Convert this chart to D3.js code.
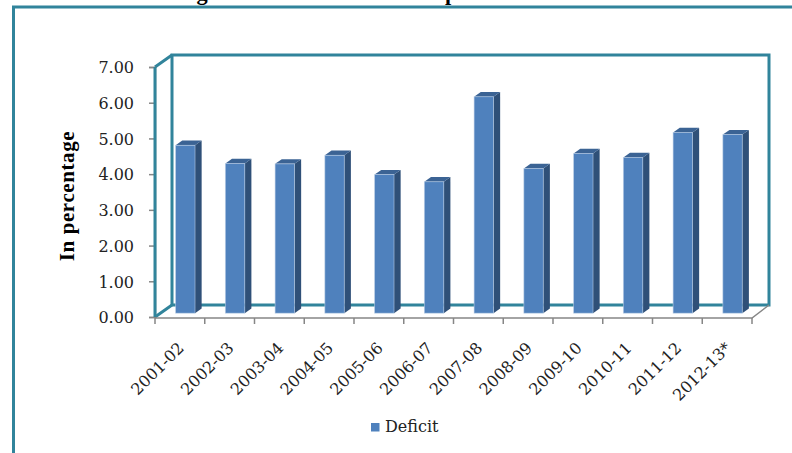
<!DOCTYPE html>
<html>
<head>
    <meta charset="utf-8">
    <style>
        body {
            margin: 0;
            width: 792px;
            height: 453px;
            overflow: hidden;
            background: white;
        }
        svg {
            display: block;
            background: white;
        }
        .tick text, .cat-label, .legend text {
            font: 16px "DejaVu Serif";
            fill: #222;
        }
        .axis-title {
            font: bold 21px "Liberation Serif";
            fill: #000;
            letter-spacing: 0.6px;
        }
        .title {
            font: bold 24px "Liberation Serif";
            fill: #000;
        }
        .wall {
            fill: none;
            stroke: #31849B;
            stroke-width: 3;
        }
        .grey {
            fill: none;
            stroke: #868686;
            stroke-width: 1.5;
        }
    </style>
    <script src="https://d3js.org/d3.v7.min.js"></script>
</head>
<body>
<script>
const categories = ["2001-02", "2002-03", "2003-04", "2004-05", "2005-06", "2006-07",
    "2007-08", "2008-09", "2009-10", "2010-11", "2011-12", "2012-13*"];
const deficit = [4.70, 4.19, 4.18, 4.42, 3.88, 3.68, 6.06, 4.05, 4.47, 4.36, 5.06, 5.00];
const yTicks = [0, 1, 2, 3, 4, 5, 6, 7];
const seriesName = "Deficit";

const width = 792, height = 453;

// 3d box: front plane plus a depth offset
const depth = [17, -12];
const off = f => [depth[0] * f, depth[1] * f];
const barFront = 0.32, barBack = 0.71;

const x = d3.scaleBand().domain(categories).range([155, 752]);
const y = d3.scaleLinear().domain([0, 7]).range([317, 67]);
const barW = x.bandwidth() * 0.39;

const svg = d3.select("body").append("svg")
    .attr("width", width)
    .attr("height", height);

// cropped title (only descenders show)
const title = svg.append("text")
    .attr("class", "title")
    .attr("x", 0)
    .attr("y", 0)
    .text("Figure 1: Fiscal Deficit Compared to GSDP");
{
    const node = title.node();
    const t = title.text();
    const gi = t.indexOf("g"), pi = t.indexOf("p");
    const gx = node.getStartPositionOfChar(gi).x + node.getSubStringLength(gi, 1) / 2;
    const px = node.getStartPositionOfChar(pi).x + 3;
    const k = (448 - 202) / (px - gx);
    title.style("font-size", (24 * k) + "px");
    const gx2 = node.getStartPositionOfChar(gi).x + node.getSubStringLength(gi, 1) / 2;
    title.attr("x", 202 - gx2).attr("y", 0);
}

// outer chart border
svg.append("rect")
    .attr("class", "wall")
    .attr("x", 13.5).attr("y", 7)
    .attr("width", 820).attr("height", 480);

// back wall and floor outline
const [dX, dY] = off(1);
const xl = x.range()[0], xr = x.range()[1];
svg.append("path")
    .attr("class", "wall")
    .attr("d", [
        "M", xl + dX, y(0) + dY, "L", xl + dX, y(7) + dY,
        "L", xr + dX, y(7) + dY, "L", xr + dX, y(0) + dY,
        "L", xl + dX, y(0) + dY
    ].join(" "));

// side wall
svg.append("path")
    .attr("class", "wall")
    .attr("d", [
        "M", xl, y(0), "L", xl + dX, y(0) + dY,
        "M", xl, y(7), "L", xl + dX, y(7) + dY
    ].join(" "));

// floor front edge and ticks (grey)
svg.append("path")
    .attr("class", "grey")
    .attr("d", ["M", xl, y(0) + 1, "L", xr, y(0) + 1, "L", xr + dX, y(0) + dY].join(" "));

svg.append("g")
    .selectAll("line")
    .data(d3.range(categories.length + 1))
    .join("line")
    .attr("class", "grey")
    .attr("x1", i => xl + i * x.step())
    .attr("x2", i => xl + i * x.step())
    .attr("y1", y(0) + 1)
    .attr("y2", y(0) + 7);

// y axis
const yAxis = svg.append("g")
    .attr("transform", `translate(${xl},0)`)
    .call(d3.axisLeft(y).tickValues(yTicks).tickFormat(d3.format(".2f")).tickSize(6).tickPadding(15));
yAxis.selectAll("path, line").attr("stroke", "#868686").attr("stroke-width", 1.5);
yAxis.selectAll("text").attr("dy", "0.36em");
yAxis.attr("font-family", null).attr("font-size", null);

// front-left edge of wall
svg.append("line")
    .attr("class", "wall")
    .attr("x1", xl).attr("x2", xl)
    .attr("y1", y(0)).attr("y2", y(7));

// bars
const bars = svg.append("g")
    .selectAll("g")
    .data(categories.map((c, i) => ({ c, v: deficit[i] })))
    .join("g");

bars.each(function (d) {
    const g = d3.select(this);
    const [fx, fy] = off(barFront);
    const [bx, by] = off(barBack);
    const left = x(d.c) + (x.bandwidth() - barW) / 2 + fx;
    const right = left + barW;
    const top = y(d.v) + fy;
    const bottom = y(0) + fy;
    const ex = bx - fx, ey = by - fy;

    // side face
    g.append("path")
        .attr("d", `M${right},${top} L${right + ex},${top + ey} L${right + ex},${bottom + ey} L${right},${bottom} Z`)
        .attr("fill", "#2F5078");
    // top face
    g.append("path")
        .attr("d", `M${left},${top} L${left + ex},${top + ey} L${right + ex},${top + ey} L${right},${top} Z`)
        .attr("fill", "#3B6394");
    // front face
    g.append("rect")
        .attr("x", left).attr("y", top)
        .attr("width", barW).attr("height", bottom - top)
        .attr("fill", "#4F81BD")
        .attr("stroke", "#b9cde5")
        .attr("stroke-opacity", 0.7)
        .attr("stroke-width", 0.8);
});

// category labels
svg.append("g")
    .selectAll("text")
    .data(categories)
    .join("text")
    .attr("class", "cat-label")
    .attr("text-anchor", "end")
    .attr("transform", d => `translate(${x(d) + x.bandwidth() / 2 + 5},349) rotate(-45)`)
    .text(d => d);

// y axis title
svg.append("text")
    .attr("class", "axis-title")
    .attr("text-anchor", "middle")
    .attr("transform", "translate(74,196) rotate(-90)")
    .text("In percentage");

// legend
const legend = svg.append("g").attr("class", "legend");
legend.append("rect")
    .attr("x", 371).attr("y", 423)
    .attr("width", 8.5).attr("height", 8.5)
    .attr("fill", "#4F81BD");
legend.append("text")
    .attr("x", 385).attr("y", 432)
    .text(seriesName);
</script>
</body>
</html>
